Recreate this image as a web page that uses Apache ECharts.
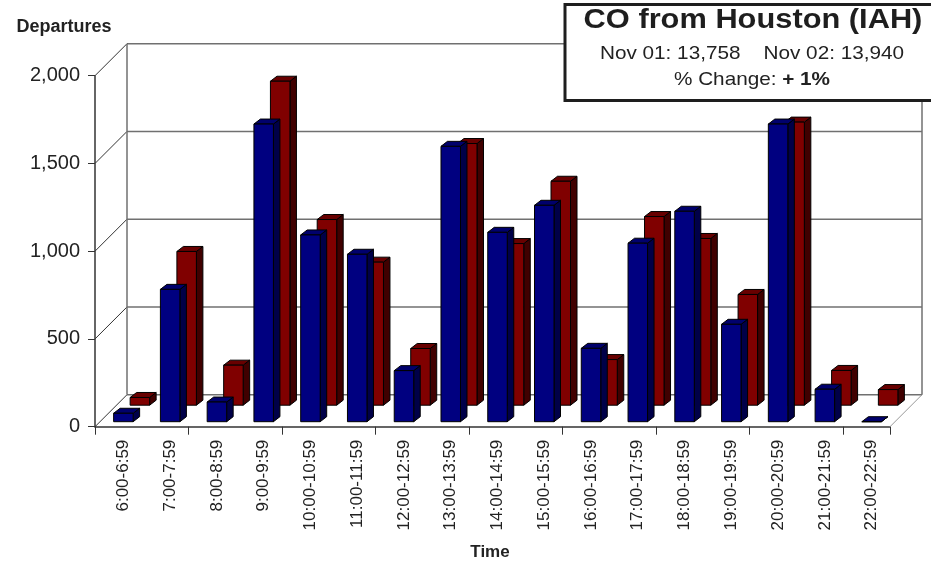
<!DOCTYPE html>
<html>
<head>
<meta charset="utf-8">
<script src="https://cdn.jsdelivr.net/npm/echarts@6/dist/echarts.min.js"></script>
<style>
html,body{margin:0;padding:0;background:#fff;}
#chart{width:931px;height:562px;}
</style>
</head>
<body>
<div id="chart"></div>
<script>
// ---- data ----
const categories = ['6:00-6:59','7:00-7:59','8:00-8:59','9:00-9:59','10:00-10:59','11:00-11:59','12:00-12:59','13:00-13:59','14:00-14:59','15:00-15:59','16:00-16:59','17:00-17:59','18:00-18:59','19:00-19:59','20:00-20:59','21:00-21:59','22:00-22:59'];
const nov01 = [48, 754, 112, 1696, 1064, 954, 291, 1569, 1079, 1233, 418, 1017, 1199, 555, 1696, 185, 0];
const nov02 = [44, 876, 228, 1846, 1058, 815, 323, 1491, 921, 1276, 260, 1075, 950, 631, 1613, 198, 89];
const yTicks = [0, 500, 1000, 1500, 2000];
const titleText = 'CO from Houston (IAH)';
const totalsText = 'Nov 01: 13,758    Nov 02: 13,940';
const changeLabel = '% Change: ';
const changeValue = '+ 1%';

// ---- style / layout ----
const FONT = "'Liberation Sans', Arial, Helvetica, sans-serif";
const WALL_D = 32;          // oblique depth of the walls (px)
const BAR_DX = 6.5, BAR_DY = -5;  // bar depth vector
const BAR_W = 19.5;

const chart = echarts.init(document.getElementById('chart'), null, {renderer: 'canvas'});

function barRenderer(depth, front, side, topc) {
  return function (params, api) {
    const i = api.value(0), v = api.value(1);
    const b = api.coord([i, 0]);
    const t = api.coord([i, v]);
    const cx = b[0] + depth;
    const yb = b[1] - depth;
    const yt = t[1] - depth;
    const x0 = cx - BAR_W / 2, x1 = cx + BAR_W / 2;
    const st = {stroke: '#000', lineWidth: 1, lineJoin: 'round'};
    return {
      type: 'group',
      children: [
        {type: 'polygon', shape: {points: [[x1, yt], [x1 + BAR_DX, yt + BAR_DY], [x1 + BAR_DX, yb + BAR_DY], [x1, yb]]},
         style: Object.assign({fill: side}, st)},
        {type: 'polygon', shape: {points: [[x0, yt], [x1, yt], [x1 + BAR_DX, yt + BAR_DY], [x0 + BAR_DX, yt + BAR_DY]]},
         style: Object.assign({fill: topc}, st)},
        {type: 'rect', shape: {x: x0, y: yt, width: BAR_W, height: Math.max(0, yb - yt)},
         style: Object.assign({fill: front}, st)}
      ]
    };
  };
}

function wallRenderer(params, api) {
  const n = categories.length;
  const children = [];
  const half = api.size([1, 0])[0] / 2;
  const xl = api.coord([0, 0])[0] - half;
  const xr = api.coord([n - 1, 0])[0] + half;
  const y0 = api.coord([0, yTicks[0]])[1];
  const yTop = api.coord([0, yTicks[yTicks.length - 1]])[1];
  yTicks.forEach(function (t) {
    const y = api.coord([0, t])[1];
    children.push({type: 'line', shape: {x1: xl + WALL_D, y1: y - WALL_D, x2: xr + WALL_D, y2: y - WALL_D},
      style: {stroke: '#707070', lineWidth: 1.5}});
    children.push({type: 'line', shape: {x1: xl, y1: y, x2: xl + WALL_D, y2: y - WALL_D},
      style: {stroke: '#333', lineWidth: 1}});
  });
  children.push({type: 'line', shape: {x1: xl + WALL_D, y1: y0 - WALL_D, x2: xl + WALL_D, y2: yTop - WALL_D},
    style: {stroke: '#707070', lineWidth: 1.5}});
  children.push({type: 'line', shape: {x1: xr + WALL_D, y1: y0 - WALL_D, x2: xr + WALL_D, y2: yTop - WALL_D},
    style: {stroke: '#707070', lineWidth: 1.5}});
  children.push({type: 'line', shape: {x1: xr, y1: y0, x2: xr + WALL_D, y2: y0 - WALL_D},
    style: {stroke: '#999', lineWidth: 1}});
  return {type: 'group', children: children};
}

const option = {
  backgroundColor: '#fff',
  animation: false,
  grid: [
    {left: 95, right: 41, top: 75.7, bottom: 135.3, containLabel: false},
    // label plane: the category labels sit slightly in depth, as in the original 3D chart
    {left: 100, right: 36, top: 75.7, bottom: 135.3, containLabel: false}
  ],
  xAxis: [{
    type: 'category',
    gridIndex: 0,
    data: categories,
    boundaryGap: true,
    axisLine: {show: true, lineStyle: {color: '#333', width: 1.5}},
    axisTick: {show: true, length: 8, lineStyle: {color: '#333', width: 1}},
    axisLabel: {show: false},
    splitLine: {show: false}
  }, {
    type: 'category',
    gridIndex: 1,
    data: categories,
    boundaryGap: true,
    axisLine: {show: false},
    axisTick: {show: false},
    axisLabel: {rotate: 90, margin: 13, fontSize: 17, color: '#222', fontFamily: FONT, interval: 0},
    splitLine: {show: false}
  }],
  yAxis: [{
    type: 'value',
    gridIndex: 0,
    min: 0, max: 2000, interval: 500,
    axisLine: {show: true, lineStyle: {color: '#333', width: 1.5}},
    axisTick: {show: true, length: 7, lineStyle: {color: '#333', width: 1}},
    axisLabel: {margin: 15, fontSize: 20, color: '#222', fontFamily: FONT,
      formatter: function (v) { return v.toLocaleString('en-US'); }},
    splitLine: {show: false}
  }, {
    type: 'value',
    gridIndex: 1,
    min: 0, max: 2000, interval: 500,
    show: false
  }],
  series: [
    {type: 'custom', name: 'walls', z: 1, clip: false, renderItem: wallRenderer, data: [[0, 0]], silent: true},
    {type: 'custom', name: 'Nov 02', z: 3, clip: false, encode: {x: 0, y: 1},
      renderItem: barRenderer(21.5, '#800000', '#400000', '#680000'),
      data: nov02.map(function (v, i) { return [i, v]; })},
    {type: 'custom', name: 'Nov 01', z: 4, clip: false, encode: {x: 0, y: 1},
      renderItem: barRenderer(5, '#000080', '#000048', '#00006c'),
      data: nov01.map(function (v, i) { return [i, v]; })}
  ],
  graphic: [
    {type: 'text', left: 16.5, top: 18, z: 10,
      style: {text: 'Departures', font: 'bold 18px ' + FONT, fill: '#222'}},
    {type: 'text', x: 490, y: 552, z: 10,
      style: {text: 'Time', font: 'bold 17px ' + FONT, fill: '#222', textAlign: 'center', textVerticalAlign: 'middle'}},
    {type: 'rect', shape: {x: 565, y: 4.5, width: 380, height: 96}, z: 20,
      style: {fill: '#fff', stroke: '#1e1e1e', lineWidth: 3}},
    {type: 'group', x: 753, y: 0, scaleX: 1.1, z: 21, children: [
      {type: 'text', x: 0, y: 20.5, z: 21,
        style: {text: titleText, font: 'bold 28px ' + FONT, fill: '#1e1e1e', textAlign: 'center', textVerticalAlign: 'middle'}}
    ]},
    {type: 'group', x: 752, y: 0, scaleX: 1.12, z: 21, children: [
      {type: 'text', x: 0, y: 53.5, z: 21,
        style: {text: totalsText, font: '18.5px ' + FONT, fill: '#222', textAlign: 'center', textVerticalAlign: 'middle'}},
      {type: 'text', x: 0, y: 80, z: 21,
        style: {
          text: '{n|' + changeLabel + '}{b|' + changeValue + '}',
          textAlign: 'center', textVerticalAlign: 'middle',
          rich: {
            n: {fontSize: 18.5, fontFamily: FONT, fill: '#222', color: '#222'},
            b: {fontSize: 18.5, fontFamily: FONT, fontWeight: 'bold', fill: '#222', color: '#222'}
          }
        }}
    ]}
  ]
};
chart.setOption(option);
</script>
</body>
</html>
